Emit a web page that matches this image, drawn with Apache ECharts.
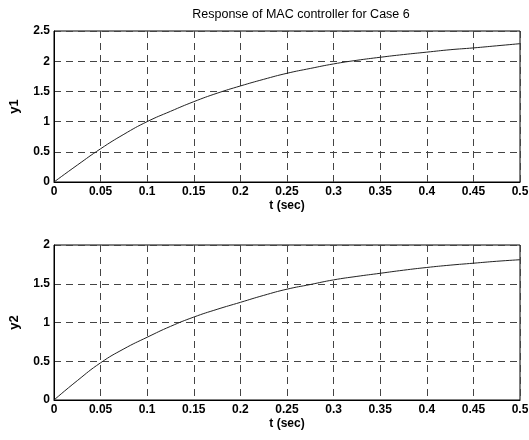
<!DOCTYPE html>
<html>
<head>
<meta charset="utf-8">
<script src="https://cdn.jsdelivr.net/npm/echarts@6/dist/echarts.min.js"></script>
<style>html,body{margin:0;padding:0;background:#fff}#c{width:529px;height:440px}</style>
</head>
<body>
<div id="c"></div>
<script>
var t = [0, 0.025, 0.05, 0.075, 0.1, 0.125, 0.15, 0.175, 0.2, 0.225, 0.25, 0.275, 0.3, 0.325, 0.35, 0.375, 0.4, 0.425, 0.45, 0.475, 0.5];
var y1 = [0, 0.28, 0.55, 0.79, 1.0, 1.17, 1.33, 1.47, 1.59, 1.70, 1.80, 1.88, 1.955, 2.015, 2.065, 2.11, 2.15, 2.19, 2.22, 2.255, 2.29];
var y2 = [0, 0.25, 0.48, 0.66, 0.81, 0.95, 1.07, 1.17, 1.26, 1.35, 1.43, 1.49, 1.55, 1.595, 1.635, 1.675, 1.71, 1.74, 1.765, 1.79, 1.81];
var titleText = 'Response of MAC controller for Case 6';

function pairs(ys){ return t.map(function(x,i){ return [x, ys[i]]; }); }
var font = 'Liberation Sans, Arial, sans-serif';
var lbl = {color:'#000', fontSize:12, fontFamily:font, fontWeight:'bold'};
function xAx(gi){
  return {type:'value', gridIndex:gi, min:0, max:0.5, interval:0.05,
    name:'t (sec)', nameLocation:'middle', nameGap:18,
    nameTextStyle:{color:'#000', fontSize:12, fontFamily:font, fontWeight:'bold'},
    axisLine:{show:true, lineStyle:{color:'#000', width:1}},
    axisTick:{show:false}, axisLabel:Object.assign({margin:4}, lbl),
    splitLine:{show:true, lineStyle:{color:'#444', type:[7,5], width:1}}};
}
function yAx(gi, max, name){
  return {type:'value', gridIndex:gi, min:0, max:max, interval:0.5,
    name:name, nameLocation:'middle', nameGap:33,
    nameTextStyle:{color:'#000', fontSize:13, fontFamily:font, fontWeight:'bold'},
    axisLine:{show:true, lineStyle:{color:'#000', width:1}},
    axisTick:{show:false}, axisLabel:Object.assign({margin:4}, lbl),
    splitLine:{show:true, lineStyle:{color:'#444', type:[7,5], width:1}}};
}
var chart = echarts.init(document.getElementById('c'), null, {renderer:'canvas'});
chart.setOption({
  animation:false,
  backgroundColor:'#fff',
  title:{text:titleText, left:296, top:3, textAlign:'center',
    textStyle:{color:'#000', fontSize:12.5, fontWeight:'normal', fontFamily:font}},
  grid:[
    {left:54, top:31, width:466, height:151, show:true, borderColor:'#000', borderWidth:1, outerBoundsMode:'none', containLabel:false},
    {left:54, top:245, width:466, height:155, show:true, borderColor:'#000', borderWidth:1, outerBoundsMode:'none', containLabel:false}
  ],
  xAxis:[xAx(0), xAx(1)],
  yAxis:[yAx(0, 2.5, 'y1'), yAx(1, 2, 'y2')],
  series:[
    {type:'line', xAxisIndex:0, yAxisIndex:0, data:pairs(y1), smooth:true, showSymbol:false,
     lineStyle:{color:'#222', width:1}},
    {type:'line', xAxisIndex:1, yAxisIndex:1, data:pairs(y2), smooth:true, showSymbol:false,
     lineStyle:{color:'#222', width:1}}
  ]
});
</script>
</body>
</html>
